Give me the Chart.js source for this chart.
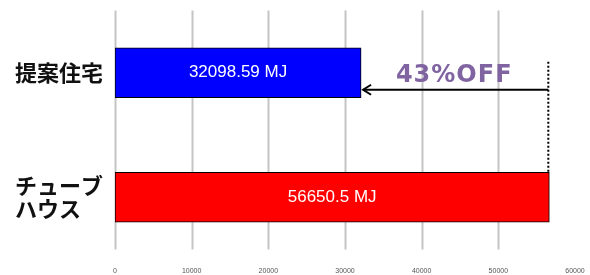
<!DOCTYPE html>
<html><head><meta charset="utf-8">
<script src="https://cdn.jsdelivr.net/npm/chart.js@4"></script>
<style>html,body{margin:0;padding:0;background:#fff}#w{width:590px;height:275px}</style>
</head><body><div id="w"><canvas id="c" width="590" height="275"></canvas></div>
<script>
const categories = [['提案住宅'], ['チューブ', 'ハウス']];
const energyMJ = [32098.59, 56650.5];
const barColors = ['#0000FF', '#FF0000'];
const valueLabels = ['32098.59 MJ', '56650.5 MJ'];
const xTicks = [0, 10000, 20000, 30000, 40000, 50000, 60000];
const reductionLabel = '43%OFF';

const overlay = {
  id: 'overlay',
  beforeDatasetsDraw(chart) {
    const ctx = chart.ctx, xs = chart.scales.x, a = chart.chartArea;
    ctx.save();
    ctx.strokeStyle = '#c4c4c4';
    ctx.lineWidth = 2;
    xTicks.slice(0, -1).forEach(v => {
      const px = Math.round(xs.getPixelForValue(v)) + 0.5;
      ctx.beginPath(); ctx.moveTo(px, a.top); ctx.lineTo(px, a.bottom - 10); ctx.stroke();
    });
    // x tick labels
    ctx.fillStyle = '#555';
    ctx.font = '7px "Liberation Sans", Arial, sans-serif';
    ctx.textAlign = 'center'; ctx.textBaseline = 'middle';
    xTicks.forEach(v => {
      ctx.fillText(String(v), xs.getPixelForValue(v), a.bottom + 12);
    });
    ctx.restore();
  },
  afterDatasetsDraw(chart) {
    const ctx = chart.ctx, xs = chart.scales.x;
    const meta = chart.getDatasetMeta(0);
    ctx.save();
    ctx.fillStyle = '#fff';
    ctx.font = '17px "Liberation Sans", Arial, sans-serif';
    ctx.textAlign = 'center'; ctx.textBaseline = 'middle';
    meta.data.forEach((bar, i) => {
      const x0 = xs.getPixelForValue(0);
      ctx.fillText(valueLabels[i], (x0 + bar.x) / 2, bar.y);
    });
    const xFrom = xs.getPixelForValue(energyMJ[1]);
    const xTo = xs.getPixelForValue(energyMJ[0]);
    const b0 = meta.data[0], b1 = meta.data[1];
    const yArrow = b0.y + 17;
    ctx.strokeStyle = '#000';
    ctx.lineWidth = 2;
    ctx.setLineDash([2, 2]);
    ctx.beginPath(); ctx.moveTo(xFrom - 1, b0.y - 11); ctx.lineTo(xFrom - 1, b1.y - b1.height / 2); ctx.stroke();
    ctx.setLineDash([]);
    ctx.beginPath(); ctx.moveTo(xFrom - 1, yArrow); ctx.lineTo(xTo + 2, yArrow); ctx.stroke();
    ctx.beginPath(); ctx.moveTo(xTo + 10, yArrow - 5); ctx.lineTo(xTo + 2, yArrow); ctx.lineTo(xTo + 10, yArrow + 5); ctx.stroke();
    ctx.fillStyle = '#8064A2';
    ctx.font = 'bold 24px "DejaVu Sans", sans-serif';
    ctx.letterSpacing = '1px';
    ctx.textAlign = 'center'; ctx.textBaseline = 'middle';
    ctx.fillText(reductionLabel, (xFrom + xTo) / 2 - 1, b0.y + 3);
    ctx.restore();
  }
};

new Chart(document.getElementById('c'), {
  type: 'bar',
  data: {
    labels: categories,
    datasets: [{
      data: energyMJ,
      backgroundColor: barColors,
      borderColor: '#000',
      borderWidth: 1,
      borderSkipped: false,
      barThickness: 50
    }]
  },
  options: {
    indexAxis: 'y',
    responsive: false,
    animation: false,
    events: [],
    layout: { padding: { top: 10.5, right: 15, bottom: 0, left: 15 } },
    plugins: { legend: { display: false }, tooltip: { enabled: false } },
    scales: {
      x: {
        min: 0, max: 60000,
        afterBuildTicks(s) { s.ticks = xTicks.map(v => ({ value: v })); },
        afterFit(s) { s.height = 15.5; s.paddingLeft = 0; s.paddingRight = 0; },
        grid: { display: false },
        border: { display: false },
        ticks: { display: false }
      },
      y: {
        afterFit(s) { s.width = 100; s.paddingTop = 0; s.paddingBottom = 0; },
        grid: { display: false },
        border: { display: false },
        ticks: {
          crossAlign: 'far',
          color: '#111',
          padding: 10,
          font: { size: 22, weight: 'bold', family: '"Noto Sans CJK JP", sans-serif', lineHeight: 1.05 }
        }
      }
    }
  },
  plugins: [overlay]
});
</script>
</body></html>
